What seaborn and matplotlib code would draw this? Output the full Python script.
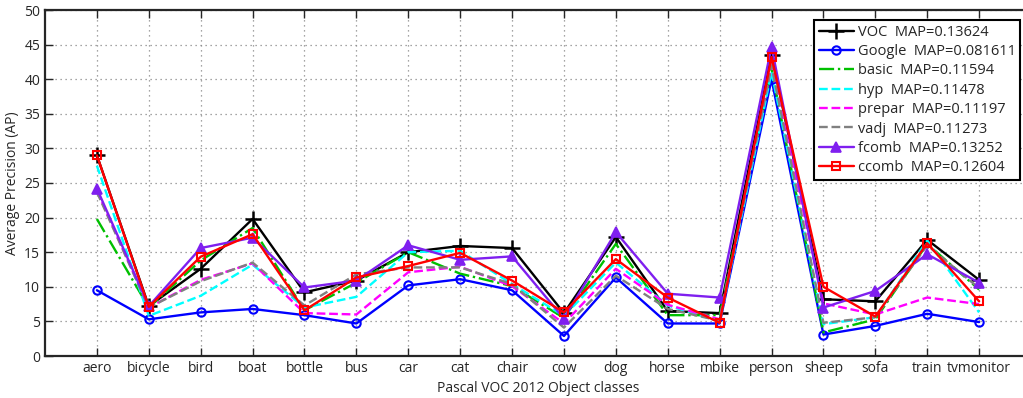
import numpy as np
import pandas as pd
import matplotlib
matplotlib.use('Agg')
import matplotlib.pyplot as plt
import seaborn as sns

# Categories (Pascal VOC 2012, 18 of 20 classes shown)
classes = ['aero', 'bicycle', 'bird', 'boat', 'bottle', 'bus', 'car', 'cat',
           'chair', 'cow', 'dog', 'horse', 'mbike', 'person', 'sheep', 'sofa',
           'train', 'tvmonitor']

# Average precision per class for each method
voc = [29.0, 7.2, 12.6, 19.8, 9.2, 10.9, 15.0, 15.9, 15.6, 6.2, 17.2, 6.5,
       6.2, 43.5, 8.2, 7.9, 16.8, 11.0]
google = [9.5, 5.3, 6.3, 6.8, 5.9, 4.7, 10.2, 11.1, 9.5, 2.9, 11.35, 4.7,
          4.7, 40.0, 3.1, 4.35, 6.1, 4.9]
basic = [19.8, 7.0, 13.8, 18.5, 6.6, 10.6, 15.0, 11.9, 10.1, 5.5, 16.2, 5.9,
         5.9, 41.5, 3.4, 5.3, 16.2, 9.6]
hyp = [27.5, 5.8, 8.7, 13.2, 7.0, 8.55, 15.0, 15.2, 10.4, 5.8, 13.5, 7.3,
       5.0, 41.0, 4.6, 5.6, 16.7, 6.3]
prepar = [23.9, 7.0, 11.0, 13.4, 6.2, 6.0, 12.1, 12.9, 10.1, 4.7, 12.6, 7.4,
          5.3, 42.0, 7.6, 6.0, 8.45, 7.5]
vadj = [23.7, 7.0, 10.8, 13.5, 7.3, 11.8, 12.8, 12.8, 10.4, 4.1, 11.6, 6.8,
        5.1, 42.0, 4.8, 5.6, 16.0, 9.8]
fcomb = [24.2, 7.2, 15.6, 17.1, 9.9, 10.9, 16.0, 13.9, 14.4, 5.4, 17.9, 9.0,
         8.45, 44.7, 7.0, 9.4, 14.7, 10.6]
ccomb = [29.0, 7.1, 14.35, 17.6, 6.6, 11.35, 13.0, 14.9, 10.9, 6.3, 14.0, 8.45,
         4.8, 43.2, 10.0, 5.7, 16.3, 7.9]

labels = ['VOC  MAP=0.13624', 'Google  MAP=0.081611', 'basic  MAP=0.11594',
          'hyp  MAP=0.11478', 'prepar  MAP=0.11197', 'vadj  MAP=0.11273',
          'fcomb  MAP=0.13252', 'ccomb  MAP=0.12604']

sns.set_style('ticks')
plt.rcParams['font.family'] = ['Open Sans', 'DejaVu Sans']

fig = plt.figure(figsize=(10.23, 3.98), dpi=100)
ax = fig.add_axes([45 / 1023, 42 / 398, 986 / 1023, 346 / 398])

xpos = np.arange(1, len(classes) + 1)
series = [voc, google, basic, hyp, prepar, vadj, fcomb, ccomb]
styles = [
    dict(color='black', linestyle='-', marker='+', markersize=11,
         markeredgewidth=1.8, markeredgecolor='black'),
    dict(color='#0000ff', linestyle='-', marker='o', markersize=6,
         markerfacecolor='none', markeredgewidth=1.5, markeredgecolor='#0000ff'),
    dict(color='#00c000', linestyle='-.'),
    dict(color='#00ffff', linestyle='--'),
    dict(color='#ff00ff', linestyle='--'),
    dict(color='#808080', linestyle='--'),
    dict(color='#7f1fef', linestyle='-', marker='^', markersize=7.5,
         markeredgewidth=1.2, markeredgecolor='#7f1fef',
         markerfacecolor='#7f1fef'),
    dict(color='#ff0000', linestyle='-', marker='s', markersize=6,
         markerfacecolor='none', markeredgewidth=1.5, markeredgecolor='#ff0000'),
]
for vals, lab, st in zip(series, labels, styles):
    df = pd.DataFrame({'x': xpos, 'ap': vals})
    sns.lineplot(data=df, x='x', y='ap', ax=ax, sort=False, linewidth=1.7,
                 label=lab, **st)

ax.set_xlim(0, 19)
ax.set_ylim(0, 50)
ax.set_xticks(xpos)
ax.set_xticklabels(classes, fontsize=10)
ax.set_yticks(np.arange(0, 51, 5))
ax.tick_params(axis='y', labelsize=10)
ax.tick_params(direction='in', length=6, width=1, top=True, right=True)
ax.grid(True, linestyle=(0, (1, 3)), color='#888888', linewidth=0.9)
for s in ax.spines.values():
    s.set_linewidth(1.6)
ax.set_xlabel('Pascal VOC 2012 Object classes', fontsize=10, labelpad=4)
ax.set_ylabel('Average Precision (AP)', fontsize=10, labelpad=3)

leg = ax.legend(loc='upper left', bbox_to_anchor=(807 / 1023, 385 / 398),
                bbox_transform=fig.transFigure, fancybox=False, framealpha=1,
                edgecolor='black', handlelength=2.4,
                borderpad=0.3, labelspacing=0.3, handletextpad=0.3,
                prop={'size': 10.5})
leg.get_frame().set_linewidth(1.5)

fig.savefig('out.png', dpi=100)
